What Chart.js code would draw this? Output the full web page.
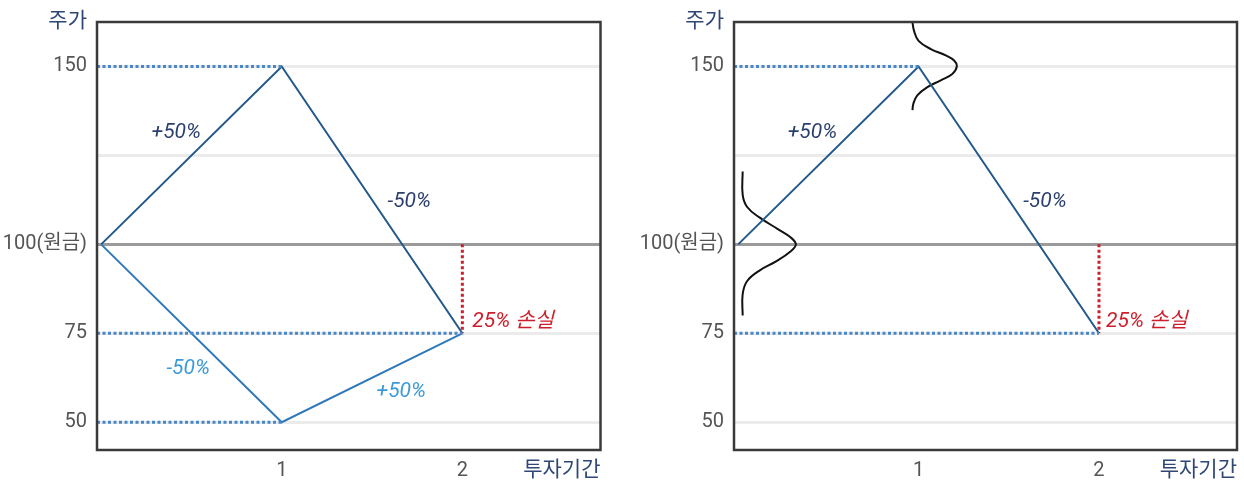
<!DOCTYPE html>
<html>
<head>
<meta charset="utf-8">
<script src="https://cdn.jsdelivr.net/npm/chart.js@4/dist/chart.umd.min.js"></script>
<style>
  html, body { margin: 0; padding: 0; background: #ffffff; }
  .panel { position: absolute; top: 0; width: 622px; height: 482px; }
  #leftPanel { left: 0; }
  #rightPanel { left: 622px; }
</style>
</head>
<body>
<div class="panel" id="leftPanel"><canvas id="pathsChart"></canvas></div>
<div class="panel" id="rightPanel"><canvas id="spreadChart"></canvas></div>
<script>
// Investment periods and prices along each path
const periods = [0, 1, 2];
const priceUpFirst = [100, 150, 75];
const priceDownFirst = [100, 50, 75];
const principal = 100;

// Axis ticks
const xTickValues = [1, 2];
const xTickLabels = ['1', '2'];
const yTickValues = [50, 75, 100, 125, 150];
const yTickLabels = ['50', '75', '100(원금)', '', '150'];

// Price distribution around the starting price (period, price)
const spreadStartX = [0.025, 0.025, 0.05, 0.12, 0.22, 0.29, 0.32, 0.29, 0.21, 0.12, 0.05, 0.025, 0.025];
const spreadStartY = [120.5, 114, 110.5, 107.5, 104.3, 102, 100, 98, 95.2, 92.7, 89.7, 86, 80];
// Price distribution around the price after the first period
const spreadPeakX = [0.966, 0.975, 1.0, 1.068, 1.151, 1.197, 1.212, 1.187, 1.123, 1.049, 0.993, 0.971, 0.966];
const spreadPeakY = [162.5, 160, 157.2, 154.9, 153.1, 151.7, 150, 147.9, 146.1, 144.2, 141.9, 139.5, 137.7];

// Scale ranges
const X_MIN = -0.023, X_MAX = 2.765;
const Y_MIN = 42.2, Y_MAX = 162.5;

const C = {
  upLine: '#22598a',
  downLine: '#3079b9',
  upNote: '#2b3f6e',
  downNote: '#3a9ad9',
  loss: '#cc1f2b',
  guide: '#4a87c6',
  spread: '#111111',
  tick: '#555555',
  title: '#2f4776',
  frame: '#3a3a3a'
};
const FONT = 'Roboto, "Noto Sans CJK KR", sans-serif';

const pts = (xs, ys) => xs.map((x, i) => ({ x, y: ys[i] }));

function line(data, color, extra) {
  return Object.assign({
    data, borderColor: color, borderWidth: 2, pointRadius: 0, fill: false, tension: 0
  }, extra || {});
}
function dotted(data, color) {
  return line(data, color, { borderWidth: 3, borderDash: [3, 2.5] });
}

// Text notes placed in data space, frame box, axis titles
const decorations = {
  id: 'decorations',
  afterDatasetsDraw(chart, args, opts) {
    const { ctx, chartArea: a, scales: { x, y } } = chart;
    ctx.save();
    ctx.font = 'italic 21px ' + FONT;
    ctx.textBaseline = 'middle';
    for (const n of opts.notes) {
      ctx.fillStyle = n.color;
      ctx.textAlign = n.align || 'center';
      ctx.fillText(n.text, x.getPixelForValue(n.x), y.getPixelForValue(n.y));
    }
    ctx.strokeStyle = C.frame;
    ctx.lineWidth = 2.5;
    ctx.strokeRect(a.left, a.top, a.right - a.left, a.bottom - a.top);

    ctx.font = '21px ' + FONT;
    ctx.fillStyle = C.title;
    ctx.textAlign = 'right';
    ctx.fillText('주가', a.left - 10, a.top);
    ctx.fillText('투자기간', a.right, a.bottom + 21);
    ctx.restore();
  }
};

function makeOptions(axisWidth, rightPad, notes) {
  return {
    responsive: true,
    maintainAspectRatio: false,
    animation: false,
    layout: { padding: { top: 19, right: rightPad, left: 0, bottom: 0 } },
    plugins: {
      legend: { display: false },
      tooltip: { enabled: false },
      decorations: { notes }
    },
    scales: {
      x: {
        type: 'linear', min: X_MIN, max: X_MAX,
        afterBuildTicks: s => { s.ticks = xTickValues.map(v => ({ value: v })); },
        afterFit: s => { s.height = 32; },
        grid: { display: false, drawTicks: false },
        border: { display: false },
        ticks: {
          padding: 9, color: C.tick, autoSkip: false, maxRotation: 0,
          font: { family: FONT, size: 20 },
          callback: (v, i) => xTickLabels[i]
        }
      },
      y: {
        type: 'linear', min: Y_MIN, max: Y_MAX,
        afterBuildTicks: s => { s.ticks = yTickValues.map(v => ({ value: v })); },
        afterFit: s => { s.width = axisWidth; },
        grid: {
          drawTicks: false,
          lineWidth: 3,
          color: c => (c.tick && c.tick.value === principal) ? '#9b9b9b' : '#ebebeb'
        },
        border: { display: false },
        ticks: {
          padding: 10, color: C.tick, autoSkip: false,
          font: { family: FONT, size: 20 },
          callback: (v, i) => yTickLabels[i]
        }
      }
    }
  };
}

const upPath = pts(periods, priceUpFirst);
const downPath = pts(periods, priceDownFirst);
const last = periods.length - 1;

// Left: both orderings of +50% / -50%
new Chart(document.getElementById('pathsChart'), {
  type: 'line',
  data: {
    datasets: [
      dotted(pts([X_MIN, periods[1]], [priceUpFirst[1], priceUpFirst[1]]), C.guide),
      dotted(pts([X_MIN, periods[last]], [priceUpFirst[last], priceUpFirst[last]]), C.guide),
      dotted(pts([X_MIN, periods[1]], [priceDownFirst[1], priceDownFirst[1]]), C.guide),
      dotted(pts([periods[last], periods[last]], [principal, priceUpFirst[last]]), C.loss),
      line(downPath, C.downLine),
      line(upPath, C.upLine)
    ]
  },
  options: makeOptions(97, 21.5, [
    { text: '+50%', x: 0.416, y: 131.5, color: C.upNote },
    { text: '-50%', x: 1.706, y: 112, color: C.upNote },
    { text: '-50%', x: 0.482, y: 65.1, color: C.downNote },
    { text: '+50%', x: 1.662, y: 58.7, color: C.downNote },
    { text: '25% 손실', x: 2.055, y: 78.2, color: C.loss, align: 'left' }
  ]),
  plugins: [decorations]
});

// Right: one path with the price distribution at each step
new Chart(document.getElementById('spreadChart'), {
  type: 'line',
  data: {
    datasets: [
      dotted(pts([X_MIN, periods[1]], [priceUpFirst[1], priceUpFirst[1]]), C.guide),
      dotted(pts([X_MIN, periods[last]], [priceUpFirst[last], priceUpFirst[last]]), C.guide),
      dotted(pts([periods[last], periods[last]], [principal, priceUpFirst[last]]), C.loss),
      line(upPath, C.upLine),
      line(pts(spreadStartX, spreadStartY), C.spread, { tension: 0.4 }),
      line(pts(spreadPeakX, spreadPeakY), C.spread, { tension: 0.4 })
    ]
  },
  options: makeOptions(112, 7, [
    { text: '+50%', x: 0.412, y: 131.5, color: C.upNote },
    { text: '-50%', x: 1.700, y: 112, color: C.upNote },
    { text: '25% 손실', x: 2.039, y: 78.2, color: C.loss, align: 'left' }
  ]),
  plugins: [decorations]
});
</script>
</body>
</html>
